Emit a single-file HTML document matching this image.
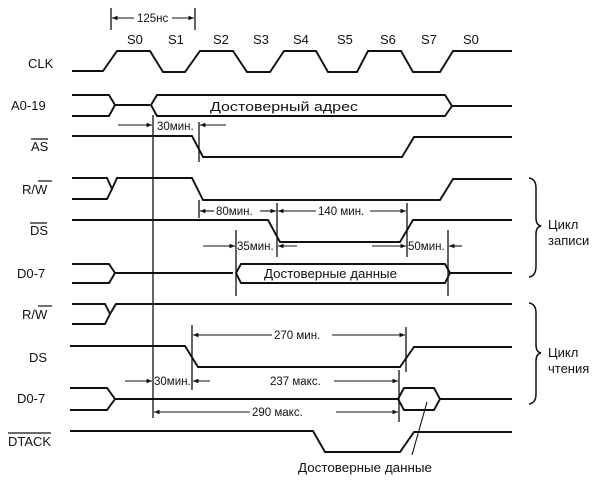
<!DOCTYPE html>
<html><head><meta charset="utf-8"><style>
html,body{margin:0;padding:0;background:#fff;}
svg{display:block;}
text{font-family:"Liberation Sans","DejaVu Sans",sans-serif;fill:#111;}
.l{font-size:13px;}
.m{font-size:11.5px;}
</style></head><body>
<svg width="600" height="483" viewBox="0 0 600 483" xmlns="http://www.w3.org/2000/svg">
<defs>
<marker id="a" viewBox="0 0 10 10" refX="10" refY="5" markerWidth="7" markerHeight="5" orient="auto-start-reverse"><path d="M0,1 L10,5 L0,9 z" fill="#111"/></marker>
</defs>
<g stroke="#111" stroke-width="1.9" fill="none">
<polyline points="72,71 103,71 117,51 150,51 163,72 185,72 200,51 233,51 247,72 270,72 284,51 316,51 328,72 357,72 368,51 401,51 413,72 440,72 453,51 512,51"/>
<line x1="111" y1="8" x2="111" y2="30" stroke-width="1.3"/>
<line x1="195" y1="8" x2="195" y2="30" stroke-width="1.3"/>
<line x1="112" y1="18" x2="134" y2="18" stroke-width="1.1" marker-start="url(#a)"/>
<line x1="172" y1="18" x2="194" y2="18" stroke-width="1.1" marker-end="url(#a)"/>
<polyline points="72,95 109,95 115,105 109,116 72,116"/>
<polyline points="115,105 150,105"/>
<polyline points="512,106 452,106 445,95 157,95 151,105 157,116 445,116 452,106"/>
<line x1="153" y1="115" x2="153" y2="418" stroke-width="1.3"/>
<line x1="118" y1="125" x2="152" y2="125" stroke-width="1.1" marker-end="url(#a)"/>
<line x1="199" y1="122" x2="199" y2="162" stroke-width="1.3"/>
<line x1="226" y1="125" x2="200" y2="125" stroke-width="1.1" marker-end="url(#a)"/>
<polyline points="72,136 192,136 203,157 402,157 414,137 512,137"/>
<polyline points="72,178 107,178 112,189 107,199 72,199"/>
<polyline points="112,189 117,178 192,178 203,200 440,200 453,179 512,179"/>
<line x1="199" y1="200" x2="199" y2="218" stroke-width="1.3"/>
<line x1="214" y1="211" x2="200" y2="211" stroke-width="1.1" marker-end="url(#a)"/>
<line x1="260" y1="211" x2="276" y2="211" stroke-width="1.1" marker-end="url(#a)"/>
<line x1="277" y1="203" x2="277" y2="257" stroke-width="1.3"/>
<line x1="316" y1="211" x2="278" y2="211" stroke-width="1.1" marker-end="url(#a)"/>
<line x1="370" y1="211" x2="406" y2="211" stroke-width="1.1" marker-end="url(#a)"/>
<line x1="407" y1="203" x2="407" y2="257" stroke-width="1.3"/>
<polyline points="72,220 268,220 280,242 400,242 413,220 512,220"/>
<line x1="236" y1="230" x2="236" y2="296" stroke-width="1.3"/>
<line x1="203" y1="246" x2="235" y2="246" stroke-width="1.1" marker-end="url(#a)"/>
<line x1="297" y1="246" x2="278" y2="246" stroke-width="1.1" marker-end="url(#a)"/>
<line x1="372" y1="246" x2="406" y2="246" stroke-width="1.1" marker-end="url(#a)"/>
<line x1="448" y1="230" x2="448" y2="296" stroke-width="1.3"/>
<line x1="462" y1="246" x2="449" y2="246" stroke-width="1.1" marker-end="url(#a)"/>
<polyline points="72,264 109,264 115,273 109,283 72,283"/>
<polyline points="115,273 233,273"/>
<polyline points="512,273 450,273 445,264 241,264 236,273 241,283 445,283 450,273"/>
<polyline points="72,304 105,304 110,314 105,324 72,324"/>
<polyline points="110,314 116,304 512,304"/>
<line x1="192" y1="325" x2="192" y2="390" stroke-width="1.3"/>
<line x1="272" y1="335" x2="193" y2="335" stroke-width="1.1" marker-end="url(#a)"/>
<line x1="332" y1="335" x2="405" y2="335" stroke-width="1.1" marker-end="url(#a)"/>
<line x1="406" y1="327" x2="406" y2="372" stroke-width="1.3"/>
<polyline points="70,346 185,346 198,367 400,367 414,347 512,347"/>
<line x1="125" y1="381" x2="152" y2="381" stroke-width="1.1" marker-end="url(#a)"/>
<line x1="210" y1="381" x2="193" y2="381" stroke-width="1.1" marker-end="url(#a)"/>
<line x1="334" y1="381" x2="398" y2="381" stroke-width="1.1" marker-end="url(#a)"/>
<line x1="399" y1="370" x2="399" y2="422" stroke-width="1.3"/>
<polyline points="70,388 107,388 115,399 107,410 70,410"/>
<polyline points="115,399 398,399"/>
<polygon points="398,399 404,388 434,388 440,399 434,410 404,410"/>
<line x1="440" y1="399" x2="512" y2="399"/>
<line x1="250" y1="412" x2="154" y2="412" stroke-width="1.1" marker-end="url(#a)"/>
<line x1="336" y1="412" x2="398" y2="412" stroke-width="1.1" marker-end="url(#a)"/>
<polyline points="70,431 313,431 325,452 400,452 414,432 512,432"/>
<line x1="412" y1="455" x2="427" y2="402" stroke-width="1.1"/>
<path d="M529,178 Q536,179 536,188 L536,218 Q536,225 541,226 Q536,227 536,234 L536,266 Q536,276 529,277" stroke-width="1.5"/>
<path d="M529,303 Q536,304 536,313 L536,345 Q536,352 541,353 Q536,354 536,361 L536,394 Q536,403 529,404" stroke-width="1.5"/>
</g>
<g class="l">
<text x="28" y="68">CLK</text>
<text x="11" y="110">A0-19</text>
<text x="31" y="151">AS</text>
<line x1="31" y1="139" x2="48" y2="139" stroke="#111" stroke-width="1.2"/>
<text x="22" y="194">R/W</text>
<line x1="38" y1="181" x2="52" y2="181" stroke="#111" stroke-width="1.2"/>
<text x="30" y="235">DS</text>
<line x1="30" y1="223" x2="47" y2="223" stroke="#111" stroke-width="1.2"/>
<text x="17" y="278">D0-7</text>
<text x="22" y="319">R/W</text>
<line x1="38" y1="306" x2="52" y2="306" stroke="#111" stroke-width="1.2"/>
<text x="29" y="362">DS</text>
<text x="17" y="403">D0-7</text>
<text x="8" y="446">DTACK</text>
<line x1="8" y1="433" x2="51" y2="433" stroke="#111" stroke-width="1.2"/>
<text x="127" y="44">S0</text>
<text x="168" y="44">S1</text>
<text x="213" y="44">S2</text>
<text x="253" y="44">S3</text>
<text x="293" y="44">S4</text>
<text x="337" y="44">S5</text>
<text x="380" y="44">S6</text>
<text x="421" y="44">S7</text>
<text x="463" y="44">S0</text>
<text x="210" y="111" textLength="148" lengthAdjust="spacingAndGlyphs">Достоверный адрес</text>
<text x="264" y="278" textLength="133" lengthAdjust="spacingAndGlyphs">Достоверные данные</text>
<text x="298" y="472" textLength="134" lengthAdjust="spacingAndGlyphs">Достоверные данные</text>
<text x="548" y="229">Цикл</text>
<text x="548" y="245">записи</text>
<text x="548" y="357">Цикл</text>
<text x="548" y="373">чтения</text>
</g>
<g class="m">
<text x="137" y="22">125нс</text>
<text x="157" y="130">30мин.</text>
<text x="216" y="215">80мин.</text>
<text x="318" y="215">140 мин.</text>
<text x="237" y="250">35мин.</text>
<text x="408" y="250">50мин.</text>
<text x="274" y="339">270 мин.</text>
<text x="154" y="385">30мин.</text>
<text x="270" y="385">237 макс.</text>
<text x="252" y="416">290 макс.</text>
</g>
</svg>
</body></html>
